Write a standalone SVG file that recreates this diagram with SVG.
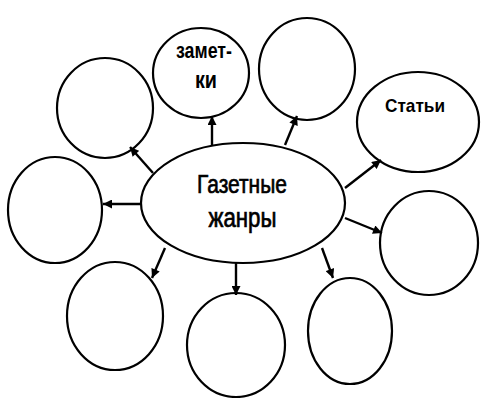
<svg xmlns="http://www.w3.org/2000/svg" width="482" height="398" viewBox="0 0 482 398">
<style>
.n{fill:#fff;stroke:#000;stroke-width:2.2}
.c line{stroke:#000;stroke-width:2.4;marker-end:url(#ah)}
.t{font-family:"Liberation Sans Narrow","Liberation Sans",Arial,sans-serif;fill:#000;text-anchor:middle}
.b{font-weight:bold}
.m{stroke:#000;stroke-width:0.7}
</style>
<defs>
<marker id="ah" viewBox="0 0 10 10" refX="10" refY="5" markerWidth="10" markerHeight="9" markerUnits="userSpaceOnUse" orient="auto">
<path d="M0,0 L10,5 L0,10 z" fill="#000"/>
</marker>
</defs>
<rect width="482" height="398" fill="#fff"/>
<g id="center">
<ellipse class="n" cx="243" cy="203" rx="102" ry="60"/>
<text class="t m" x="242" y="193" font-size="26" textLength="90" lengthAdjust="spacingAndGlyphs">Газетные</text>
<text class="t m" x="242.5" y="227" font-size="27" textLength="68" lengthAdjust="spacingAndGlyphs">жанры</text>
</g>
<g id="n-topleft"><ellipse class="n" cx="105" cy="108" rx="48" ry="50"/></g>
<g id="n-zametki">
<ellipse class="n" cx="201" cy="73" rx="48" ry="45"/>
<text class="t b" x="204" y="58" font-size="22" textLength="56" lengthAdjust="spacingAndGlyphs">замет-</text>
<text class="t b" x="206" y="88" font-size="23" textLength="22" lengthAdjust="spacingAndGlyphs">ки</text>
</g>
<g id="n-top"><ellipse class="n" cx="307" cy="69" rx="48" ry="51"/></g>
<g id="n-stati">
<ellipse class="n" cx="418" cy="122" rx="61" ry="50"/>
<text class="t b" x="415" y="112" font-size="19" textLength="60" lengthAdjust="spacingAndGlyphs">Статьи</text>
</g>
<g id="n-left"><ellipse class="n" cx="55" cy="210" rx="47" ry="53"/></g>
<g id="n-right"><ellipse class="n" cx="429" cy="243" rx="49" ry="52"/></g>
<g id="n-bottomleft"><ellipse class="n" cx="115" cy="316" rx="48" ry="54"/></g>
<g id="n-bottom"><ellipse class="n" cx="236" cy="345" rx="49" ry="52"/></g>
<g id="n-bottomright"><ellipse class="n" cx="350" cy="331" rx="42" ry="53"/></g>
<g id="connectors" class="c">
<line x1="212" y1="145" x2="212" y2="116"/>
<line x1="285" y1="145" x2="297" y2="116"/>
<line x1="153" y1="173" x2="130" y2="147"/>
<line x1="345" y1="188" x2="381" y2="160"/>
<line x1="140" y1="204" x2="103" y2="204"/>
<line x1="345" y1="218" x2="382" y2="233"/>
<line x1="165" y1="248" x2="152" y2="278"/>
<line x1="236" y1="263" x2="236" y2="295"/>
<line x1="322" y1="248" x2="333" y2="278"/>
</g>
</svg>
